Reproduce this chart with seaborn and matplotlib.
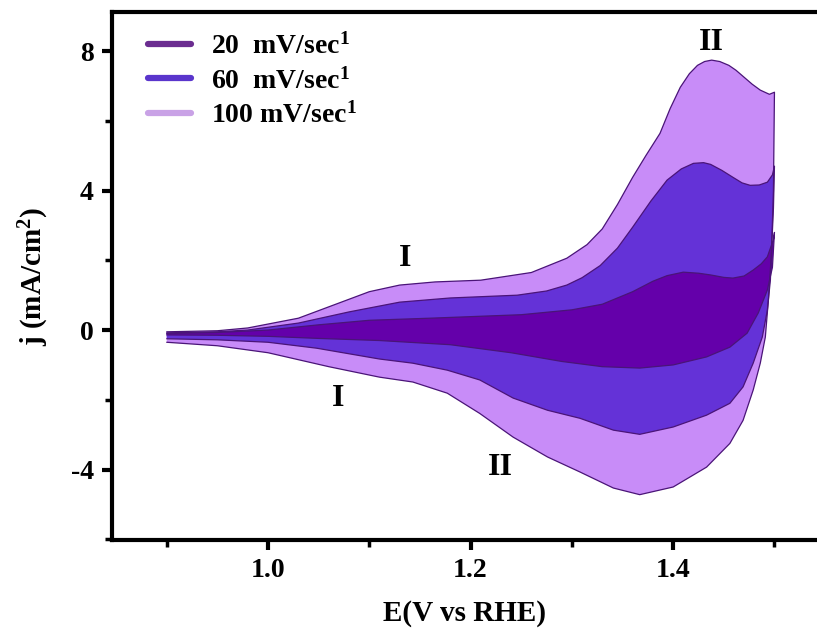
import numpy as np
import pandas as pd
import matplotlib
matplotlib.use("Agg")
import matplotlib.pyplot as plt
from matplotlib.lines import Line2D
from matplotlib.ticker import MultipleLocator
import seaborn as sns

# ---- data ----
scan_rates = ["20", "60", "100"]

up20_x = [0.90, 0.95, 1.00, 1.05, 1.10, 1.16, 1.25, 1.30, 1.33, 1.36, 1.38, 1.394, 1.41, 1.425, 1.437, 1.45, 1.459, 1.47, 1.479, 1.487, 1.493, 1.499, 1.50]
up20_y = [-0.10, -0.07, 0.00, 0.15, 0.28, 0.34, 0.44, 0.58, 0.74, 1.10, 1.40, 1.56, 1.66, 1.63, 1.58, 1.51, 1.49, 1.55, 1.72, 1.90, 2.10, 2.60, 2.80]
lo20_x = [1.50, 1.498, 1.493, 1.484, 1.473, 1.456, 1.433, 1.40, 1.367, 1.33, 1.29, 1.24, 1.18, 1.11, 1.05, 1.00, 0.95, 0.90]
lo20_y = [2.80, 1.80, 1.15, 0.49, -0.09, -0.49, -0.77, -1.00, -1.09, -1.05, -0.90, -0.65, -0.42, -0.30, -0.24, -0.18, -0.15, -0.14]

up60_x = [0.90, 0.95, 0.98, 1.03, 1.08, 1.13, 1.18, 1.246, 1.275, 1.295, 1.31, 1.328, 1.345, 1.36, 1.378, 1.394, 1.408, 1.42, 1.43, 1.437, 1.448, 1.459, 1.468, 1.476, 1.485, 1.493, 1.498, 1.50]
up60_y = [-0.08, -0.05, 0.00, 0.20, 0.52, 0.80, 0.92, 1.00, 1.12, 1.29, 1.50, 1.85, 2.35, 2.95, 3.70, 4.30, 4.62, 4.78, 4.80, 4.75, 4.58, 4.38, 4.22, 4.15, 4.16, 4.24, 4.45, 4.70]
lo60_x = [1.50, 1.499, 1.497, 1.496, 1.493, 1.488, 1.479, 1.469, 1.456, 1.433, 1.40, 1.367, 1.341, 1.308, 1.276, 1.242, 1.209, 1.177, 1.143, 1.11, 1.048, 1.00, 0.95, 0.90]
lo60_y = [4.70, 3.50, 2.20, 1.44, 0.57, -0.20, -0.95, -1.63, -2.10, -2.44, -2.78, -2.99, -2.87, -2.53, -2.30, -1.95, -1.43, -1.15, -0.95, -0.83, -0.52, -0.35, -0.28, -0.25]

up100_x = [0.90, 0.95, 0.98, 1.03, 1.065, 1.10, 1.13, 1.165, 1.21, 1.26, 1.295, 1.315, 1.33, 1.345, 1.36, 1.373, 1.387, 1.397, 1.407, 1.416, 1.424, 1.431, 1.438, 1.446, 1.455, 1.462, 1.47, 1.478, 1.486, 1.495, 1.50]
up100_y = [-0.05, -0.02, 0.06, 0.34, 0.72, 1.10, 1.29, 1.38, 1.43, 1.65, 2.06, 2.45, 2.90, 3.60, 4.38, 5.00, 5.64, 6.35, 6.96, 7.35, 7.59, 7.70, 7.74, 7.70, 7.59, 7.45, 7.25, 7.05, 6.88, 6.76, 6.82]
lo100_x = [1.50, 1.499, 1.497, 1.494, 1.491, 1.486, 1.479, 1.469, 1.456, 1.433, 1.40, 1.367, 1.341, 1.308, 1.276, 1.242, 1.209, 1.177, 1.143, 1.11, 1.06, 1.00, 0.95, 0.90]
lo100_y = [6.82, 4.00, 2.20, 0.86, -0.20, -0.95, -1.72, -2.59, -3.25, -3.93, -4.50, -4.72, -4.53, -4.07, -3.64, -3.07, -2.39, -1.81, -1.49, -1.35, -1.05, -0.65, -0.45, -0.35]

fill_colors = {"20": "#6400AA", "60": "#6432D7", "100": "#C88CF8"}
legend_colors = {"20": "#6B2D90", "60": "#5A35CC", "100": "#C9A2E6"}
edge_color = "#4A1478"

curves = {
    "20": (up20_x, up20_y, lo20_x, lo20_y),
    "60": (up60_x, up60_y, lo60_x, lo60_y),
    "100": (up100_x, up100_y, lo100_x, lo100_y),
}

sns.set_style("ticks")
plt.rcParams["font.family"] = ["Liberation Serif", "DejaVu Serif"]
plt.rcParams["font.weight"] = "bold"
plt.rcParams["mathtext.fontset"] = "custom"
plt.rcParams["mathtext.rm"] = "Liberation Serif:bold"
plt.rcParams["mathtext.it"] = "Liberation Serif:bold"
plt.rcParams["mathtext.bf"] = "Liberation Serif:bold"
for k in ["text.color", "axes.labelcolor", "xtick.color", "ytick.color", "axes.edgecolor"]:
    plt.rcParams[k] = "black"

fig = plt.figure(figsize=(8.17, 6.40), dpi=100)
ax = fig.add_axes([112 / 817, 100 / 640, 705 / 817, 528 / 640])

for rate in ["100", "60", "20"]:
    ux, uy, lx, ly = curves[rate]
    px = list(ux) + list(lx)
    py = list(uy) + list(ly)
    ax.fill(px, py, color=fill_colors[rate], zorder=2, linewidth=0)
    df = pd.DataFrame({"E": px, "j": py})
    sns.lineplot(data=df, x="E", y="j", sort=False, estimator=None, ax=ax,
                 color=edge_color, linewidth=0.9, zorder=3)

ax.set_xlim(0.846, 1.542)
ax.set_ylim(-6.02, 9.12)
ax.xaxis.set_minor_locator(MultipleLocator(0.1))
ax.yaxis.set_minor_locator(MultipleLocator(2))
ax.set_xticks([1.0, 1.2, 1.4])
ax.set_xticklabels(["1.0", "1.2", "1.4"])
ax.set_yticks([-4, 0, 4, 8])
ax.set_yticklabels(["-4", "0", "4", "8"])

for s in ["left", "bottom", "top"]:
    ax.spines[s].set_linewidth(3)
    ax.spines[s].set_color("black")
ax.spines["right"].set_visible(False)
ax.tick_params(which="major", direction="out", length=7, width=3, labelsize=20, pad=6)
ax.tick_params(which="minor", direction="out", length=5, width=2.5)
ax.tick_params(top=False, right=False, which="both")

ax.set_xlabel("E(V vs RHE)", fontsize=21, fontweight="bold", labelpad=12)
ax.set_ylabel("j (mA/cm$^2$)", fontsize=21, fontweight="bold", labelpad=14)

# peak annotations
ax.text(1.135, 2.06, "I", fontsize=23, fontweight="bold", ha="center", va="center")
ax.text(1.069, -1.95, "I", fontsize=23, fontweight="bold", ha="center", va="center")
ax.text(1.438, 8.25, "II", fontsize=23, fontweight="bold", ha="center", va="center")
ax.text(1.229, -3.93, "II", fontsize=23, fontweight="bold", ha="center", va="center")

handles = [Line2D([0], [0], color=legend_colors[r], linewidth=4.5) for r in scan_rates]
labels = ["20  mV/sec$^{1}$", "60  mV/sec$^{1}$", "100 mV/sec$^{1}$"]
ax.legend(handles, labels, loc="upper left", bbox_to_anchor=(0.015, 1.008), frameon=False,
          handlelength=1.55, handletextpad=0.75, labelspacing=0.3,
          prop={"weight": "bold", "size": 20})

ax.grid(False)
fig.savefig("out.png", dpi=100)
